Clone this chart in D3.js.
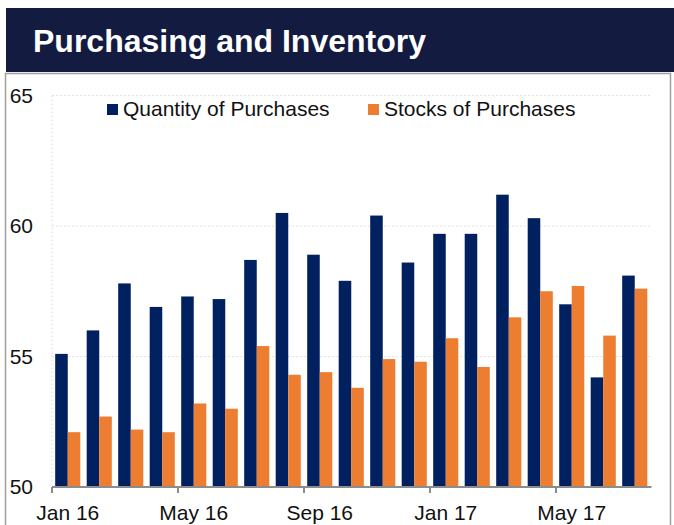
<!DOCTYPE html>
<html lang="en">
    <head>
        <meta charset="utf-8">
        <title>Purchasing and Inventory</title>
        <script type="text/javascript" src="https://d3js.org/d3.v7.min.js"></script>
        <style type="text/css">
            body { margin: 0; background: white; }
            text { font-family: "Liberation Sans", Arial, sans-serif; fill: #111; }
        </style>
    </head>
    <body>
        <script type="text/javascript">

        // Size
        var w = 674;
        var h = 525;

        // Data
        var months = ["Jan 16", "Feb 16", "Mar 16", "Apr 16", "May 16", "Jun 16", "Jul 16", "Aug 16", "Sep 16", "Oct 16", "Nov 16", "Dec 16",
                      "Jan 17", "Feb 17", "Mar 17", "Apr 17", "May 17", "Jun 17", "Jul 17"];
        var quantity = [55.1, 56.0, 57.8, 56.9, 57.3, 57.2, 58.7, 60.5, 58.9, 57.9, 60.4, 58.6, 59.7, 59.7, 61.2, 60.3, 57.0, 54.2, 58.1];
        var stocks = [52.1, 52.7, 52.2, 52.1, 53.2, 53.0, 55.4, 54.3, 54.4, 53.8, 54.9, 54.8, 55.7, 54.6, 56.5, 57.5, 57.7, 55.8, 57.6];
        var seriesNames = ["Quantity of Purchases", "Stocks of Purchases"];
        var yTicks = [50, 55, 60, 65];
        var xLabels = ["Jan 16", "May 16", "Sep 16", "Jan 17", "May 17"];

        var colors = ["#002060", "#ED7D31"];

        var margin = {left: 52, right: 23.5, top: 95.5, bottom: 38};

        var svg = d3.select("body")
                    .append("svg")
                    .attr("width", w)
                    .attr("height", h);

        // Title bar
        svg.append("rect")
            .attr("x", 6).attr("y", 8)
            .attr("width", w - 6).attr("height", 64)
            .attr("fill", "#131b40");
        svg.append("text")
            .attr("x", 33).attr("y", 52)
            .style("font-size", "32px")
            .style("font-weight", "bold")
            .style("fill", "white")
            .text("Purchasing and Inventory");

        // Box
        svg.append("rect")
            .attr("x", 5.5).attr("y", 73.5)
            .attr("width", 665).attr("height", h)
            .attr("fill", "none")
            .attr("stroke", "#a0a0a0")
            .attr("stroke-width", 1.5);

        // Scales
        var x = d3.scaleBand()
                .domain(months)
                .range([margin.left, w - margin.right]);

        var x1 = d3.scaleBand()
                .domain(seriesNames)
                .range([3.2, x.bandwidth() - 3.2]);

        var y = d3.scaleLinear()
                .domain([50, 65])
                .range([h - margin.bottom, margin.top]);

        // Grid
        svg.selectAll("line.grid")
            .data(yTicks.slice(1))
            .enter()
            .append("line")
            .attr("class", "grid")
            .attr("x1", margin.left).attr("x2", w - margin.right)
            .attr("y1", function(d){ return y(d); })
            .attr("y2", function(d){ return y(d); })
            .attr("stroke", "#e2e2e2")
            .attr("stroke-dasharray", "2,2");

        svg.append("line")
            .attr("x1", margin.left).attr("x2", margin.left)
            .attr("y1", y(65)).attr("y2", y(50))
            .attr("stroke", "#e2e2e2")
            .attr("stroke-dasharray", "2,2");

        // Y labels
        svg.selectAll("text.ylab")
            .data(yTicks)
            .enter()
            .append("text")
            .attr("class", "ylab")
            .attr("x", 33)
            .attr("y", function(d){ return y(d); })
            .attr("dy", "0.35em")
            .attr("text-anchor", "end")
            .style("font-size", "21px")
            .text(function(d){ return d; });

        // Bars
        var groups = svg.selectAll("g.month")
                    .data(months)
                    .enter()
                    .append("g")
                    .attr("class", "month")
                    .attr("transform", function(d){ return "translate(" + x(d) + ",0)"; });

        var allSeries = [quantity, stocks];
        groups.selectAll("rect")
            .data(function(d, i){
                return seriesNames.map(function(s, j){ return {name: s, value: allSeries[j][i], k: j}; });
            })
            .enter()
            .append("rect")
            .attr("x", function(d){ return x1(d.name); })
            .attr("width", x1.bandwidth())
            .attr("y", function(d){ return y(d.value); })
            .attr("height", function(d){ return y(50) - y(d.value); })
            .attr("fill", function(d){ return colors[d.k]; });

        // X axis
        svg.append("line")
            .attr("x1", margin.left).attr("x2", w - margin.right + 1)
            .attr("y1", y(50)).attr("y2", y(50))
            .attr("stroke", "#8c8c8c")
            .attr("stroke-width", 2);

        svg.selectAll("line.xtick")
            .data(xLabels)
            .enter()
            .append("line")
            .attr("class", "xtick")
            .attr("x1", function(d){ return x(d); })
            .attr("x2", function(d){ return x(d); })
            .attr("y1", y(50)).attr("y2", y(50) + 6)
            .attr("stroke", "#8c8c8c")
            .attr("stroke-width", 2);

        svg.selectAll("text.xlab")
            .data(xLabels)
            .enter()
            .append("text")
            .attr("class", "xlab")
            .attr("x", function(d){ return x(d) + x.bandwidth() / 2; })
            .attr("y", 520)
            .attr("text-anchor", "middle")
            .style("font-size", "21px")
            .text(function(d){ return d; });

        // Legend
        var legendX = [107, 368];
        var legend = svg.selectAll("g.legend")
                    .data(seriesNames)
                    .enter()
                    .append("g")
                    .attr("class", "legend")
                    .attr("transform", function(d, i){ return "translate(" + legendX[i] + ",104)"; });

        legend.append("rect")
            .attr("width", 11).attr("height", 11)
            .attr("fill", function(d, i){ return colors[i]; });

        legend.append("text")
            .attr("x", 16).attr("y", 12)
            .style("font-size", "21px")
            .text(function(d){ return d; });

        </script>
    </body>
</html>
